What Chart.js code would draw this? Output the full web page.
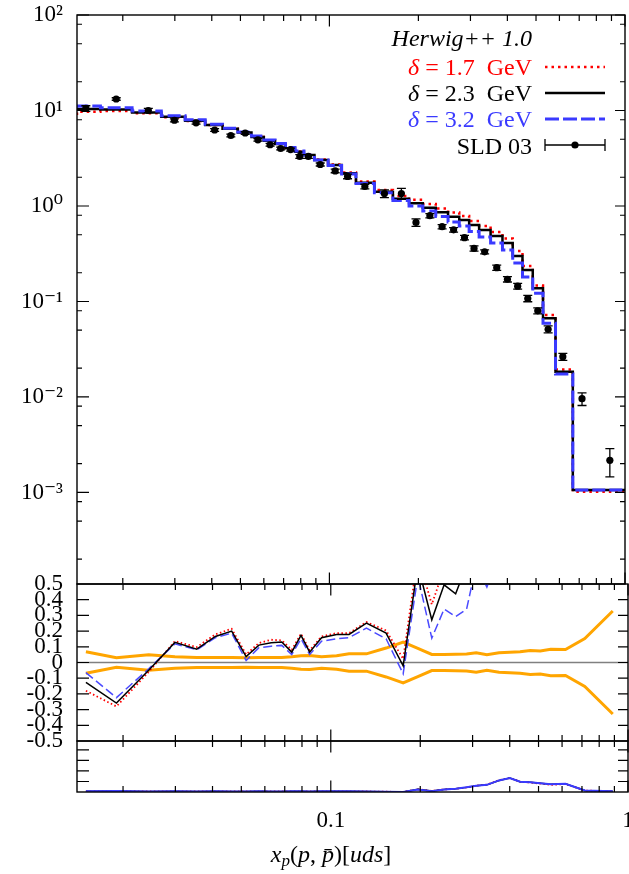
<!DOCTYPE html>
<html>
<head>
<meta charset="utf-8">
<script src="https://cdn.jsdelivr.net/npm/chart.js@4.4.1/dist/chart.umd.min.js"></script>
<style>
  html, body { margin: 0; padding: 0; background: #fff; }
  #wrap { position: relative; width: 629px; height: 874px; }
  #wrap canvas { position: absolute; left: 0; top: 0; }
</style>
</head>
<body>
<div id="wrap">
  <canvas id="spectrum" width="629" height="874"></canvas>
  <canvas id="ratio" width="629" height="874"></canvas>
  <canvas id="dev" width="629" height="874"></canvas>
</div>
<script>
// proton x_p spectrum (uds)

const binEdges = [0.014, 0.0168, 0.0215, 0.027, 0.0325, 0.038, 0.0435, 0.049, 0.0545, 0.06,
  0.0655, 0.071, 0.0765, 0.082, 0.089, 0.099, 0.11, 0.123, 0.142, 0.164,
  0.186, 0.207, 0.229, 0.252, 0.275, 0.297, 0.321, 0.351, 0.385, 0.417,
  0.45, 0.4875, 0.528, 0.582, 0.666, 0.797, 1.0];

const xpCentres = [0.015, 0.019, 0.0244, 0.0299, 0.0354, 0.0409, 0.0464, 0.0519, 0.0573, 0.063,
  0.0684, 0.0739, 0.0794, 0.0849, 0.0931, 0.1046, 0.1152, 0.1318, 0.1535, 0.1752,
  0.1963, 0.2187, 0.2406, 0.2631, 0.2864, 0.3085, 0.3351, 0.3682, 0.4002, 0.4334,
  0.4689, 0.5068, 0.5495, 0.6162, 0.7155, 0.8887];

// SLD 03 data and relative errors
const sldValues = [10.5, 13.2, 10.0, 7.9, 7.43, 6.25, 5.47, 5.81, 4.93, 4.38,
  4.0, 3.9, 3.3, 3.3, 2.72, 2.33, 2.04, 1.6, 1.35, 1.35,
  0.672, 0.791, 0.607, 0.563, 0.466, 0.359, 0.331, 0.226, 0.171, 0.1446,
  0.1075, 0.0799, 0.0512, 0.0264, 0.0096, 0.00217];
const sldRelErr = [0.068, 0.030, 0.050, 0.036, 0.032, 0.032, 0.032, 0.031, 0.032, 0.032,
  0.032, 0.036, 0.043, 0.045, 0.036, 0.043, 0.055, 0.055, 0.092, 0.130,
  0.090, 0.051, 0.051, 0.053, 0.054, 0.062, 0.049, 0.062, 0.065, 0.068,
  0.076, 0.074, 0.085, 0.083, 0.152, 0.328];

// Herwig++ histograms, one value per bin
const mcDelta17 = [8.97, 9.71, 9.88, 9.35, 8.49, 7.77, 7.05, 6.45, 5.88, 5.28,
  4.85, 4.49, 4.05, 3.72, 3.44, 3.06, 2.72, 2.24, 1.80, 1.47,
  1.27, 1.16, 1.05, 0.942, 0.855, 0.786, 0.697, 0.617, 0.534, 0.457,
  0.338, 0.235, 0.147, 0.0722, 0.0194, 0.00102];
const mcDelta23 = [9.95, 10.37, 10.24, 9.53, 8.61, 7.82, 7.05, 6.45, 5.88, 5.28,
  4.83, 4.46, 4.02, 3.70, 3.42, 3.03, 2.69, 2.20, 1.75, 1.41,
  1.19, 1.07, 0.960, 0.859, 0.773, 0.713, 0.632, 0.561, 0.485, 0.410,
  0.300, 0.214, 0.1375, 0.0667, 0.0184, 0.00106];
const mcDelta32 = [10.70, 11.14, 10.70, 9.88, 8.82, 8.01, 7.17, 6.51, 5.95, 5.41,
  4.91, 4.51, 4.10, 3.77, 3.42, 3.03, 2.65, 2.16, 1.72, 1.38,
  1.14, 1.00, 0.886, 0.776, 0.680, 0.617, 0.541, 0.473, 0.410, 0.346,
  0.253, 0.1805, 0.1219, 0.0591, 0.0174, 0.00106];

// middle panel: relative deviation from data
const ratioDelta17 = [-0.18, -0.28, -0.06, 0.136, 0.098, 0.179, 0.215, 0.051, 0.124, 0.145,
  0.141, 0.081, 0.183, 0.077, 0.166, 0.187, 0.187, 0.258, 0.204, 0.023,
  0.68, 0.37, 0.6, 0.58, 0.7, 0.85, 0.9, 1.05, 1.2, 1.3,
  1.4, 1.5, 1.6, 1.5, 1.1, 0.9];
const ratioDelta23 = [-0.126, -0.258, -0.05, 0.128, 0.085, 0.166, 0.200, 0.038, 0.111, 0.126,
  0.130, 0.066, 0.173, 0.066, 0.158, 0.179, 0.179, 0.251, 0.187, -0.021,
  0.62, 0.272, 0.495, 0.438, 0.62, 0.75, 0.8, 0.95, 1.1, 1.2,
  1.3, 1.4, 1.5, 1.4, 1.0, 0.9];
const ratioDelta32 = [-0.065, -0.224, -0.04, 0.119, 0.081, 0.158, 0.187, 0.013, 0.094, 0.104,
  0.109, 0.051, 0.151, 0.051, 0.136, 0.151, 0.158, 0.219, 0.151, -0.072,
  0.55, 0.155, 0.34, 0.293, 0.34, 0.62, 0.48, 0.7, 0.85, 0.9,
  1.0, 1.1, 1.2, 1.1, 0.8, 0.7];

// bottom panel
const devDelta17 = [0.06, 0.1, 0.05, 0.06, 0.05, 0.07, 0.05, 0.05, 0.06, 0.05,
  0.05, 0.06, 0.06, 0.05, 0.06, 0.07, 0.06, 0.05, 0.03, 0.0,
  0.26, 0.1, 0.25, 0.3, 0.43, 0.6, 0.7, 1.12, 1.32, 0.98,
  0.9, 0.8, 0.68, 0.76, 0.14, 0.06];
const devDelta23 = [0.06, 0.1, 0.05, 0.06, 0.05, 0.07, 0.05, 0.05, 0.06, 0.05,
  0.05, 0.06, 0.06, 0.05, 0.06, 0.07, 0.06, 0.05, 0.03, 0.0,
  0.25, 0.09, 0.24, 0.3, 0.44, 0.59, 0.68, 1.1, 1.33, 0.98,
  0.92, 0.84, 0.73, 0.78, 0.14, 0.06];
const devDelta32 = [0.06, 0.1, 0.05, 0.06, 0.05, 0.07, 0.05, 0.05, 0.06, 0.05,
  0.05, 0.06, 0.06, 0.05, 0.06, 0.07, 0.06, 0.05, 0.03, 0.0,
  0.24, 0.08, 0.24, 0.3, 0.45, 0.59, 0.68, 1.1, 1.32, 0.98,
  0.92, 0.84, 0.74, 0.78, 0.14, 0.06];

// ticks
const xMajorTicks = [0.1, 1];
const xMinorTicks = [0.02, 0.03, 0.04, 0.05, 0.06, 0.07, 0.08, 0.09, 0.2, 0.3, 0.4, 0.5, 0.6, 0.7, 0.8, 0.9];
const xTickLabels = ['0.1', '1'];
const logMajorTicks = [1e-3, 1e-2, 1e-1, 1, 10, 100];
const logTickLabels = ['10⁻³', '10⁻²', '10⁻¹', '10⁰', '10¹', '10²'];
const logMinorSteps = [2, 5, 8];
const ratioTicks = [-0.5, -0.4, -0.3, -0.2, -0.1, 0, 0.1, 0.2, 0.3, 0.4, 0.5];
const ratioTickLabels = ['-0.5', '-0.4', '-0.3', '-0.2', '-0.1', '0', '0.1', '0.2', '0.3', '0.4', '0.5'];
const devTicks = [1, 2, 3, 4];

const FONT = "'Liberation Serif', 'DejaVu Serif', serif";
const RED = '#ff0000';
const BLUE = '#3a3aff';
const ORANGE = '#ffa500';
Chart.defaults.font.family = FONT;
Chart.defaults.color = '#000';

const X_MIN = 0.014, X_MAX = 1.0;
const xScale = () => ({ type: 'logarithmic', min: X_MIN, max: X_MAX, display: false });

function histPoints(vals) {
    const pts = vals.map((v, i) => ({ x: binEdges[i], y: v }));
    pts.push({ x: binEdges[vals.length], y: vals[vals.length - 1] });
    return pts;
}
function seriesPoints(vals) {
    return xpCentres.map((x, i) => ({ x, y: vals[i] }));
}

function drawRuns(ctx, runs, x, y, align) {
    let total = 0;
    runs.forEach(r => {
        ctx.font = `${r.italic ? 'italic ' : ''}${r.size || 24}px ${FONT}`;
        r.w = ctx.measureText(r.text).width;
        total += r.w;
    });
    let cx = align === 'right' ? x - total : align === 'center' ? x - total / 2 : x;
    ctx.textAlign = 'left';
    ctx.textBaseline = 'alphabetic';
    runs.forEach(r => {
        ctx.font = `${r.italic ? 'italic ' : ''}${r.size || 24}px ${FONT}`;
        ctx.fillStyle = r.color || '#000';
        ctx.fillText(r.text, cx, y + (r.dy || 0));
        cx += r.w;
    });
}

// keep the y axis at a fixed width and stop its labels from pushing the plot area
function fixedAxis(s) {
    s.width = 77;
    s.paddingTop = 0;
    s.paddingBottom = 0;
}

// frame with inward ticks on all four sides
function framePlugin(yTicks) {
    return {
        id: 'panelFrame',
        afterDatasetsDraw(chart) {
            const { ctx, chartArea: a } = chart;
            const xs = chart.scales.x, ys = chart.scales.y;
            ctx.save();
            ctx.strokeStyle = '#000';
            ctx.lineWidth = 1.2;
            ctx.setLineDash([]);
            ctx.beginPath();
            const seg = (x0, y0, x1, y1) => { ctx.moveTo(x0, y0); ctx.lineTo(x1, y1); };
            [[xMajorTicks, 11.5], [xMinorTicks, 6]].forEach(([list, len]) => list.forEach(v => {
                const px = xs.getPixelForValue(v);
                seg(px, a.top, px, a.top + len);
                seg(px, a.bottom, px, a.bottom - len);
            }));
            yTicks.forEach(t => {
                const py = ys.getPixelForValue(t.v);
                seg(a.left, py, a.left + t.l, py);
                seg(a.right, py, a.right - t.r, py);
            });
            ctx.stroke();
            ctx.lineWidth = 1.4;
            ctx.strokeRect(a.left, a.top, a.right - a.left, a.bottom - a.top);
            ctx.restore();
        }
    };
}

const sldErrorBars = {
    id: 'sldErrorBars',
    afterDatasetsDraw(chart) {
        const { ctx } = chart;
        const ys = chart.scales.y;
        const meta = chart.getDatasetMeta(0);
        ctx.save();
        ctx.strokeStyle = '#000';
        ctx.lineWidth = 1.3;
        ctx.beginPath();
        meta.data.forEach((pt, i) => {
            const v = sldValues[i], e = sldRelErr[i];
            const y0 = ys.getPixelForValue(v * (1 + e));
            const y1 = ys.getPixelForValue(v * (1 - e));
            ctx.moveTo(pt.x, y0); ctx.lineTo(pt.x, y1);
            ctx.moveTo(pt.x - 4.5, y0); ctx.lineTo(pt.x + 4.5, y0);
            ctx.moveTo(pt.x - 4.5, y1); ctx.lineTo(pt.x + 4.5, y1);
        });
        ctx.stroke();
        ctx.restore();
    }
};

const legendBox = {
    id: 'legendBox',
    afterDraw(chart) {
        const { ctx } = chart;
        const xr = 532, s0 = 545, s1 = 605;
        ctx.save();
        drawRuns(ctx, [{ text: 'Herwig++ 1.0', italic: true }], xr, 46, 'right');
        const rows = [
            { v: '1.7', color: RED, y: 75, dash: [2.5, 4], w: 2.5 },
            { v: '2.3', color: '#000', y: 101, dash: [], w: 2.5 },
            { v: '3.2', color: BLUE, y: 127, dash: [14, 4], w: 3 }
        ];
        rows.forEach(r => {
            drawRuns(ctx, [
                { text: 'δ', italic: true, color: r.color },
                { text: ' = ' + r.v + '\u2002GeV', color: r.color }
            ], xr, r.y, 'right');
            ctx.strokeStyle = r.color;
            ctx.lineWidth = r.w;
            ctx.setLineDash(r.dash);
            ctx.beginPath();
            ctx.moveTo(s0, r.y - 8);
            ctx.lineTo(s1, r.y - 8);
            ctx.stroke();
        });
        ctx.setLineDash([]);
        drawRuns(ctx, [{ text: 'SLD 03' }], xr, 154, 'right');
        ctx.strokeStyle = '#000';
        ctx.lineWidth = 1.3;
        ctx.beginPath();
        ctx.moveTo(s0, 145); ctx.lineTo(s1, 145);
        ctx.moveTo(s0, 139); ctx.lineTo(s0, 151);
        ctx.moveTo(s1, 139); ctx.lineTo(s1, 151);
        ctx.stroke();
        ctx.fillStyle = '#000';
        ctx.beginPath();
        ctx.arc((s0 + s1) / 2, 145, 3.6, 0, Math.PI * 2);
        ctx.fill();
        ctx.restore();
    }
};

const zeroLine = {
    id: 'zeroLine',
    beforeDatasetsDraw(chart) {
        const { ctx, chartArea: a } = chart;
        const py = chart.scales.y.getPixelForValue(0);
        ctx.save();
        ctx.strokeStyle = '#808080';
        ctx.lineWidth = 1.6;
        ctx.beginPath();
        ctx.moveTo(a.left, py);
        ctx.lineTo(a.right, py);
        ctx.stroke();
        ctx.restore();
    }
};

const xAxisText = {
    id: 'xAxisText',
    afterDraw(chart) {
        const { ctx } = chart;
        const xs = chart.scales.x;
        ctx.save();
        xMajorTicks.forEach((v, i) => {
            drawRuns(ctx, [{ text: xTickLabels[i], size: 23 }], xs.getPixelForValue(v), 827, 'center');
        });
        drawRuns(ctx, [
            { text: 'x', italic: true },
            { text: 'p', italic: true, size: 17, dy: 4 },
            { text: '(' },
            { text: 'p', italic: true },
            { text: ', ' },
            { text: 'p\u0304', italic: true },
            { text: ')[' },
            { text: 'uds', italic: true },
            { text: ']' }
        ], 331, 862, 'center');
        ctx.restore();
    }
};

const baseOptions = (padding) => ({
    responsive: false,
    animation: false,
    devicePixelRatio: 1,
    layout: { padding },
    plugins: { legend: { display: false }, tooltip: { enabled: false } },
    elements: { point: { radius: 0 } }
});

// ---- top panel ----
const logFrameTicks = [];
logMajorTicks.forEach(v => logFrameTicks.push({ v, l: 12, r: 10 }));
[1e-4, 1e-3, 1e-2, 1e-1, 1, 10].forEach(d => logMinorSteps.forEach(m => {
    if (d * m > 1.1e-4 && d * m < 100) logFrameTicks.push({ v: d * m, l: 5, r: 5 });
}));

const topOpts = baseOptions({ top: 15, bottom: 874 - 584, left: 0, right: 1 });
topOpts.scales = {
    x: xScale(),
    y: {
        type: 'logarithmic', min: 1.1e-4, max: 100,
        afterFit: fixedAxis,
        afterBuildTicks: s => { s.ticks = logMajorTicks.map(v => ({ value: v })); },
        grid: { display: false, drawTicks: false },
        border: { display: false },
        ticks: { padding: 14, autoSkip: false, color: '#000', font: { size: 23 },
                 callback: (v, i) => logTickLabels[i] }
    }
};

new Chart(document.getElementById('spectrum'), {
    type: 'line',
    data: {
        datasets: [
            { label: 'SLD 03', data: seriesPoints(sldValues), showLine: false,
              pointRadius: 3.6, pointBackgroundColor: '#000', pointBorderWidth: 0 },
            { label: 'δ = 3.2 GeV', data: histPoints(mcDelta32), stepped: 'after',
              borderColor: BLUE, borderWidth: 3, borderDash: [13, 4], pointRadius: 0 },
            { label: 'δ = 2.3 GeV', data: histPoints(mcDelta23), stepped: 'after',
              borderColor: '#000', borderWidth: 2.5, pointRadius: 0 },
            { label: 'δ = 1.7 GeV', data: histPoints(mcDelta17), stepped: 'after',
              borderColor: RED, borderWidth: 2.5, borderDash: [2.5, 4], pointRadius: 0 }
        ]
    },
    options: topOpts,
    plugins: [sldErrorBars, framePlugin(logFrameTicks), legendBox]
});

// ---- ratio panel ----
const midOpts = baseOptions({ top: 584, bottom: 874 - 741, left: 0, right: 1 });
midOpts.scales = {
    x: xScale(),
    y: {
        type: 'linear', min: -0.5, max: 0.5,
        afterFit: fixedAxis,
        afterBuildTicks: s => { s.ticks = ratioTicks.map(v => ({ value: v })); },
        grid: { display: false, drawTicks: false },
        border: { display: false },
        ticks: { padding: 14, autoSkip: false, color: '#000', font: { size: 23 },
                 callback: (v, i) => ratioTickLabels[i] }
    }
};

new Chart(document.getElementById('ratio'), {
    type: 'line',
    data: {
        datasets: [
            { data: seriesPoints(ratioDelta23), borderColor: '#000', borderWidth: 1.5, pointRadius: 0 },
            { data: seriesPoints(ratioDelta32), borderColor: '#4a4aff', borderWidth: 1.5, borderDash: [9, 4], pointRadius: 0 },
            { data: seriesPoints(ratioDelta17), borderColor: RED, borderWidth: 1.8, borderDash: [1.5, 2.5], pointRadius: 0 },
            { data: seriesPoints(sldRelErr), borderColor: ORANGE, borderWidth: 3, pointRadius: 0 },
            { data: seriesPoints(sldRelErr.map(e => -e)), borderColor: ORANGE, borderWidth: 3, pointRadius: 0 }
        ]
    },
    options: midOpts,
    plugins: [zeroLine, framePlugin(ratioTicks.slice(1, -1).map(v => ({ v, l: 12, r: 10 })))]
});

// ---- bottom panel ----
const botOpts = baseOptions({ top: 741, bottom: 874 - 792, left: 77, right: 1 });
botOpts.scales = {
    x: xScale(),
    y: { type: 'linear', min: 0, max: 4.85, display: false }
};

new Chart(document.getElementById('dev'), {
    type: 'line',
    data: {
        datasets: [
            { data: seriesPoints(devDelta32), borderColor: BLUE, borderWidth: 2, pointRadius: 0 },
            { data: seriesPoints(devDelta23), borderColor: '#000', borderWidth: 1.5, pointRadius: 0 },
            { data: seriesPoints(devDelta17), borderColor: RED, borderWidth: 1.8, borderDash: [1.5, 2.5], pointRadius: 0 }
        ]
    },
    options: botOpts,
    plugins: [framePlugin(devTicks.map(v => ({ v, l: 12, r: 10 }))), xAxisText]
});
</script>
</body>
</html>
